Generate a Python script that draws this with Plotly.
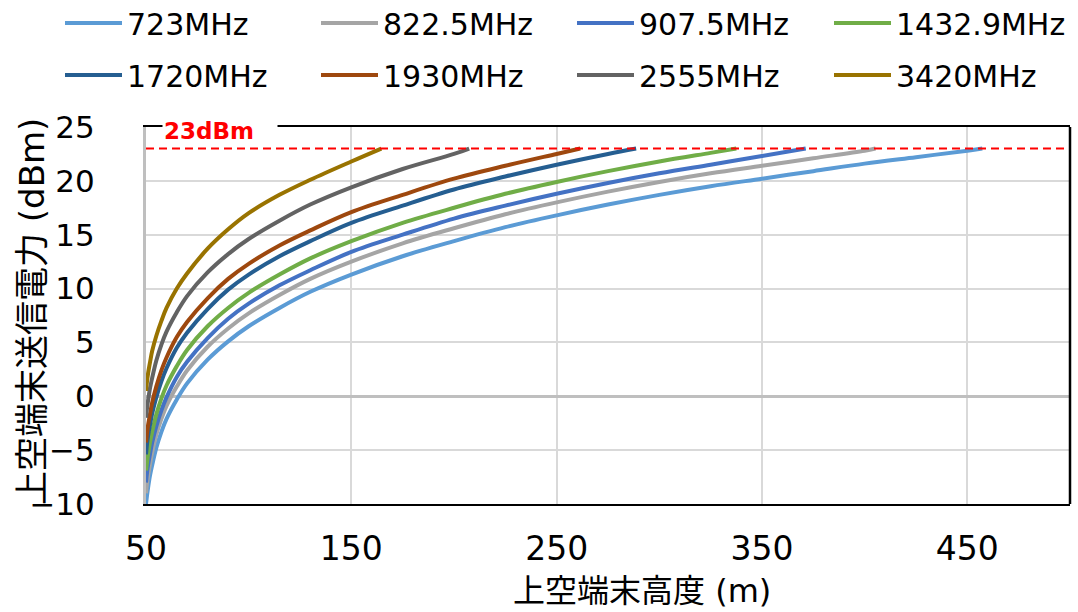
import plotly.graph_objects as go

# ---------------- data ----------------
series_names = ["723MHz", "822.5MHz", "907.5MHz", "1432.9MHz",
                "1720MHz", "1930MHz", "2555MHz", "3420MHz"]
series_colors = ["#5B9BD5", "#A5A5A5", "#4472C4", "#70AD47",
                 "#255E91", "#9E480E", "#636363", "#997300"]

h_723 = [50, 50.5, 51, 52, 53, 55, 57.5, 60, 65, 70, 80, 90, 100, 115, 130, 150, 175, 200, 225, 250, 275, 300, 325, 350, 375, 400, 425, 450, 457.3]
p_723 = [-10.0, -9.2, -8.5, -7.3, -6.4, -4.8, -3.3, -2.1, -0.3, 1.2, 3.4, 5.1, 6.5, 8.2, 9.7, 11.3, 13.0, 14.4, 15.7, 16.8, 17.8, 18.7, 19.5, 20.2, 20.9, 21.6, 22.2, 22.8, 23.0]

h_822 = [50, 50.5, 51, 52, 53, 55, 57.5, 60, 65, 70, 80, 90, 100, 115, 130, 150, 175, 200, 225, 250, 275, 300, 325, 350, 375, 400, 405.3]
p_822 = [-9.0, -8.1, -7.4, -6.2, -5.2, -3.6, -2.1, -0.9, 0.9, 2.4, 4.6, 6.3, 7.7, 9.4, 10.9, 12.5, 14.2, 15.6, 16.9, 18.0, 19.0, 19.9, 20.7, 21.4, 22.1, 22.8, 23.0]

h_907 = [50, 50.5, 51, 52, 53, 55, 57.5, 60, 65, 70, 80, 90, 100, 115, 130, 150, 175, 200, 225, 250, 275, 300, 325, 350, 371.3]
p_907 = [-8.0, -7.1, -6.4, -5.3, -4.3, -2.8, -1.3, -0.1, 1.8, 3.2, 5.4, 7.2, 8.6, 10.3, 11.7, 13.4, 15.0, 16.5, 17.7, 18.8, 19.8, 20.7, 21.5, 22.3, 23.0]

h_1432 = [50, 50.5, 51, 52, 53, 55, 57.5, 60, 65, 70, 80, 90, 100, 115, 130, 150, 175, 200, 225, 250, 275, 300, 325, 337.5]
p_1432 = [-6.9, -6.1, -5.4, -4.2, -3.3, -1.7, -0.2, 1.0, 2.8, 4.3, 6.5, 8.2, 9.6, 11.3, 12.8, 14.4, 16.1, 17.5, 18.8, 19.9, 20.9, 21.8, 22.6, 23.0]

h_1720 = [50, 50.5, 51, 52, 53, 55, 57.5, 60, 65, 70, 80, 90, 100, 115, 130, 150, 175, 200, 225, 250, 275, 288.7]
p_1720 = [-5.4, -4.4, -3.7, -2.6, -1.6, -0.1, 1.4, 2.6, 4.5, 5.9, 8.1, 9.9, 11.3, 13.0, 14.4, 16.1, 17.7, 19.2, 20.4, 21.5, 22.5, 23.0]

h_1930 = [50, 50.5, 51, 52, 53, 55, 57.5, 60, 65, 70, 80, 90, 100, 115, 130, 150, 175, 200, 225, 250, 261.5]
p_1930 = [-4.3, -3.4, -2.7, -1.6, -0.6, 0.9, 2.4, 3.6, 5.5, 6.9, 9.1, 10.9, 12.3, 14.0, 15.4, 17.1, 18.7, 20.2, 21.4, 22.5, 23.0]

h_2555 = [50, 50.5, 51, 52, 53, 55, 57.5, 60, 65, 70, 80, 90, 100, 115, 130, 150, 175, 200, 207.4]
p_2555 = [-2.0, -1.1, -0.4, 0.8, 1.7, 3.3, 4.8, 6.0, 7.8, 9.3, 11.5, 13.2, 14.6, 16.3, 17.8, 19.4, 21.1, 22.5, 23.0]

h_3420 = [50, 50.5, 51, 52, 53, 55, 57.5, 60, 65, 70, 80, 90, 100, 115, 130, 150, 164.6]
p_3420 = [0.5, 1.4, 2.1, 3.2, 4.2, 5.6, 7.0, 8.2, 10.0, 11.4, 13.7, 15.5, 17.0, 18.7, 20.1, 21.8, 23.0]

series_h = [h_723, h_822, h_907, h_1432, h_1720, h_1930, h_2555, h_3420]
series_p = [p_723, p_822, p_907, p_1432, p_1720, p_1930, p_2555, p_3420]

limit_x = [50, 500]
limit_y = [23, 23]
limit_label = "23dBm"

x_ticks = [50, 150, 250, 350, 450]
y_ticks = [-10, -5, 0, 5, 10, 15, 20, 25]
x_title = "上空端末高度 (m)"
y_title = "上空端末送信電力 (dBm)"

# ---------------- figure ----------------
W, H = 1078, 612
ML, MR, MT, MB = 146, 8, 127, 108
PW, PH = W - ML - MR, H - MT - MB


def px_x(px):
    return (px - ML) / PW


def px_y(py):
    return (H - MB - py) / PH


fig = go.Figure()
legend_ids = ["legend", "legend2", "legend3", "legend4"]
for i, (name, col, hx, py) in enumerate(zip(series_names, series_colors, series_h, series_p)):
    fig.add_trace(go.Scatter(
        x=hx, y=py, name=name, mode="lines",
        line=dict(color=col, width=4, shape="spline", smoothing=1.0),
        legend=legend_ids[i % 4], legendgroup=name,
        hoverinfo="x+y+name",
    ))

fig.add_trace(go.Scatter(
    x=limit_x, y=limit_y, mode="lines", showlegend=False,
    line=dict(color="#FF0000", width=2, dash="8px,5px"), hoverinfo="skip",
))

legend_text_px = [130, 386, 642, 899]
ITEMW = 57
leg_font = dict(family="DejaVu Sans", size=30, color="#000000")
legend_layout = {}
for k, lid in enumerate(legend_ids):
    legend_layout[lid] = dict(
        x=px_x(legend_text_px[k] - (ITEMW + 13)), y=px_y(-3), xanchor="left", yanchor="top",
        orientation="v", font=leg_font, bgcolor="rgba(0,0,0,0)",
        tracegroupgap=10, itemwidth=ITEMW,
    )

fig.update_layout(
    width=W, height=H,
    margin=dict(l=ML, r=MR, t=MT, b=MB, autoexpand=False),
    paper_bgcolor="white", plot_bgcolor="white",
    showlegend=True,
    **legend_layout,
    xaxis=dict(
        range=[50, 500], tickvals=x_ticks, ticktext=[str(v) for v in x_ticks],
        showgrid=True, gridcolor="#D9D9D9", gridwidth=1.5,
        showline=True, linecolor="#000000", linewidth=2, mirror=True,
        ticks="", ticklabelstandoff=14,
        tickfont=dict(family="DejaVu Sans", size=33, color="#000000"),
        zeroline=False,
    ),
    yaxis=dict(
        range=[-10, 25], tickvals=y_ticks,
        showgrid=True, gridcolor="#D9D9D9", gridwidth=1.5,
        showline=True, linecolor="#BFBFBF", linewidth=3,
        zeroline=True, zerolinecolor="#BFBFBF", zerolinewidth=2.5,
        ticks="", ticklabelstandoff=42,
        tickfont=dict(family="DejaVu Sans", size=31, color="#000000"),
    ),
    shapes=[dict(type="line", xref="paper", yref="paper", x0=1, x1=1, y0=0, y1=1,
                 line=dict(color="#000000", width=2.5))],
    annotations=[
        dict(text=x_title, xref="paper", yref="paper", x=px_x(642), y=px_y(591),
             xanchor="center", yanchor="middle", showarrow=False,
             font=dict(family="DejaVu Sans, Noto Sans CJK JP", size=32, color="#000000")),
        dict(text=y_title, xref="paper", yref="paper", x=px_x(32), y=px_y(312),
             xanchor="center", yanchor="middle", showarrow=False, textangle=-90,
             font=dict(family="DejaVu Sans, Noto Sans CJK JP", size=34, color="#000000")),
        dict(text=limit_label, xref="paper", yref="paper", x=px_x(162), y=px_y(131),
             xanchor="left", yanchor="middle", showarrow=False, align="left",
             width=112, bgcolor="white", borderpad=1,
             font=dict(family="DejaVu Sans", size=23, color="#FF0000", weight="bold")),
    ],
)

fig.write_html("out.html", config={"displayModeBar": False},
               post_script="document.body.style.margin='0px';")
